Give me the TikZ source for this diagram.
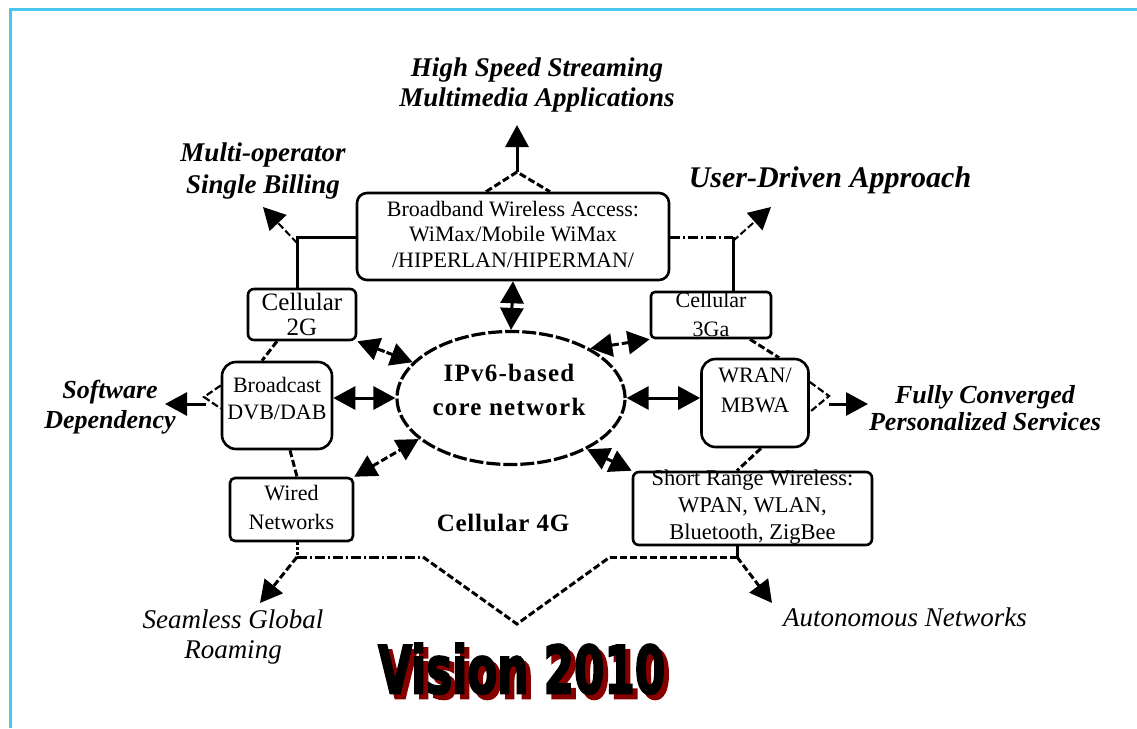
\documentclass[tikz,border=0pt]{standalone}
\usepackage{fontspec}
\setmainfont{Liberation Serif}
\newfontfamily\visfont{DejaVu Sans}[BoldFeatures={FakeBold=3.5}]
\usetikzlibrary{arrows.meta,shapes.geometric}
\definecolor{frameblue}{RGB}{72,200,240}
\definecolor{shred}{RGB}{135,0,0}
\newcommand{\visword}{\resizebox{287pt}{50pt}{\visfont\bfseries Vision 2010}}
\tikzset{
  box/.style={draw, line width=2.6pt, rounded corners=6pt, inner sep=0pt},
  txt/.style={inner sep=0pt, align=center, font=\fontsize{22}{26}\selectfont},
  lab/.style={inner sep=0pt, align=center, font=\fontsize{27}{30}\selectfont\bfseries\itshape},
  conn/.style={line width=3pt},
  dsh/.style={conn, dash pattern=on 7pt off 3pt},
  ddot/.style={conn, dash pattern=on 10pt off 3pt on 2pt off 3pt},
}
\begin{document}
\begin{tikzpicture}[x=1pt,y=-1pt,>={Triangle[length=22pt,width=23pt]}]
\useasboundingbox (0,0) rectangle (1137,728);
\fill[white] (0,0) rectangle (1137,728);
\draw[frameblue, line width=3pt] (10,728) -- (10,9) -- (1137,9);

% boxes
\node[box, rounded corners=10pt, minimum width=312pt, minimum height=87pt] (bwa) at (513,236.5) {};
\node[txt, font=\fontsize{22}{25.5}\selectfont] (bwat) at (513,234) {Broadband Wireless Access:\\WiMax/Mobile WiMax\\/HIPERLAN/HIPERMAN/};
\node[box, minimum width=108pt, minimum height=51pt] (g2) at (302,314.5) {};
\node[txt, font=\fontsize{25}{25}\selectfont] (g2t) at (302,314.5) {Cellular\\2G};
\node[box, rounded corners=4pt, minimum width=120pt, minimum height=46pt] (g3) at (711,315) {};
\node[txt, font=\fontsize{22}{29}\selectfont] (g3t) at (711,314) {Cellular\\3Ga};
\node[box, rounded corners=14pt, minimum width=110pt, minimum height=87pt] (bc) at (277,405.5) {};
\node[txt, font=\fontsize{22}{27}\selectfont] (bct) at (277,398.5) {Broadcast\\DVB/DAB};
\node[box, rounded corners=5pt, minimum width=123pt, minimum height=63pt] (wd) at (291.5,509.5) {};
\node[txt, font=\fontsize{22}{29}\selectfont] (wdt) at (291.5,507.5) {Wired\\Networks};
\node[box, rounded corners=14pt, minimum width=107pt, minimum height=88pt] (wr) at (755,403) {};
\node[txt, font=\fontsize{22}{30}\selectfont] (wrt) at (755,390) {WRAN/\\MBWA};
\node[box, rounded corners=6pt, minimum width=239pt, minimum height=73pt] (sr) at (752.5,508.5) {};
\node[txt, font=\fontsize{22.5}{27}\selectfont] (srt) at (752.5,507) {Short Range Wireless:\\WPAN, WLAN,\\Bluetooth, ZigBee};

% core ellipse
\node[draw, ellipse, line width=3.2pt, dash pattern=on 14pt off 3pt, minimum width=228pt, minimum height=133pt, inner sep=0pt] (ell) at (511,398) {};
\node[inner sep=0pt, align=center, font=\fontsize{25}{34}\selectfont\bfseries\addfontfeatures{LetterSpace=5}] (ellt) at (509,390) {IPv6-based\\core network};
\node[inner sep=0pt, font=\fontsize{25}{30}\selectfont\bfseries\addfontfeatures{LetterSpace=3}] (c4) at (503,523) {Cellular 4G};

% labels
\node[lab] (hs) at (537,85) {High Speed Streaming\\Multimedia Applications};
\node[lab, font=\fontsize{27}{32}\selectfont\bfseries\itshape] (mo) at (263,171) {Multi-operator\\Single Billing};
\node[lab, font=\fontsize{30}{32}\selectfont\bfseries\itshape] (ud) at (830,180) {User-Driven Approach};
\node[lab, font=\fontsize{26}{30}\selectfont\bfseries\itshape] (sw) at (110,407) {Software\\Dependency};
\node[lab, font=\fontsize{26}{27}\selectfont\bfseries\itshape] (fc) at (985,408) {Fully Converged\\Personalized Services};
\node[lab, font=\fontsize{27}{30}\selectfont\itshape] (sg) at (233,637) {Seamless Global\\Roaming};
\node[lab, font=\fontsize{27}{30}\selectfont\itshape] (an) at (905,617) {Autonomous Networks};

% Vision 2010 with dark red drop shadow
\node[inner sep=0pt, anchor=north west] (vision) at (378,643) {\makebox[0pt][l]{\hspace{5pt}\raisebox{-5pt}{\color{shred}\visword}}\visword};

% coordinates for free ends
\coordinate (peak) at (517,172);
\coordinate (hsTip) at (517,125);
\coordinate (j2) at (297,237);
\coordinate (moTip) at (263,207);
\coordinate (j3) at (733,237);
\coordinate (udTip) at (771,207);
\coordinate (bcv) at (204,397);
\coordinate (swS) at (206,404);
\coordinate (swTip) at (165,404);
\coordinate (wrv) at (829,396);
\coordinate (fcS) at (829,404);
\coordinate (fcTip) at (868,404);
\coordinate (bl) at (297,557);
\coordinate (vl) at (423,557);
\coordinate (vb) at (517,624);
\coordinate (vr) at (610,557);
\coordinate (br) at (737,557);
\coordinate (sgTip) at (260,603);
\coordinate (anTip) at (772,603);

% top
\draw[dsh] ([xshift=-27pt]bwa.north) -- (peak) -- ([xshift=37pt]bwa.north);
\draw[conn,->] (peak) -- (hsTip);
\draw[conn] (g2.north -| j2) -- (j2) -- (j2 -| bwa.west);
\draw[dsh, line width=2pt, ->] ([yshift=-6pt]j2) -- (moTip);
\draw[ddot] (j3 -| bwa.east) -- (j3);
\draw[conn] (j3) -- (g3.north -| j3);
\draw[dsh, line width=2pt, ->] ([yshift=-4pt]j3) -- (udTip);

% core links
\draw[conn, <->] (bwa.south) -- (ell.north);
\draw[conn, dash pattern=on 8pt off 2pt, <->] (g2.south east) -- (ell.160);
\draw[dsh, <->] (g3.south west) -- (ell.32);
\draw[conn, <->] (ell.west -| bc.east) -- (ell.west);
\draw[conn, <->] (ell.east) -- (ell.east -| wr.west);
\draw[dsh, <->] (wd.north east) -- (ell.204);
\draw[dsh, <->] (ell.326) -- (sr.north west);

% box-to-box links
\draw[dsh] ([xshift=-25pt]g2.south) -- ([xshift=-15pt]bc.north);
\draw[dsh] ([xshift=13pt]bc.south) -- ([xshift=5.5pt]wd.north);
\draw[dsh] ([xshift=39pt]g3.south) -- ([xshift=24pt]wr.north);
\draw[dsh] ([xshift=6pt]wr.south) -- ([xshift=-15.5pt]sr.north);

% side arrows
\draw[dsh, line width=2.2pt] ([yshift=20pt]bc.west) -- (bcv) -- ([yshift=-3pt]bc.west);
\draw[conn, ->] (swS) -- (swTip);
\draw[dsh, line width=2.2pt] ([yshift=21pt]wr.east) -- (wrv) -- ([yshift=-9pt]wr.east);
\draw[conn, ->] (fcS) -- (fcTip);

% bottom
\draw[conn, dotted] (wd.south -| bl) -- (bl);
\draw[ddot] (bl) -- (vl);
\draw[dsh] (vl) -- (vb) -- (vr);
\draw[dsh] (vr) -- (br);
\draw[conn] (sr.south -| br) -- (br);
\draw[dsh, ->] (bl) -- (sgTip);
\draw[dsh, ->] (br) -- (anTip);
\end{tikzpicture}
\end{document}
